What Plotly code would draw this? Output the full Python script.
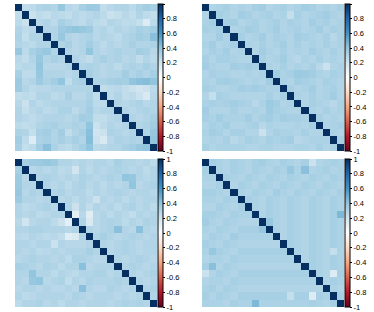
import plotly.graph_objects as go

N = 20
var_names = [f"V{i+1}" for i in range(N)]

# Upper triangles (row i holds correlations with columns i+1..19)
corr_a_upper = [
    [0.25,0.27,0.30,0.32,0.30,0.38,0.28,0.27,0.33,0.37,0.36,0.25,0.28,0.30,0.30,0.27,0.32,0.35,0.33],
    [0.22,0.26,0.24,0.28,0.27,0.25,0.29,0.26,0.28,0.30,0.27,0.22,0.24,0.28,0.25,0.30,0.26,0.24],
    [0.28,0.30,0.27,0.33,0.30,0.28,0.26,0.30,0.27,0.25,0.30,0.28,0.26,0.27,0.24,0.15,0.27],
    [0.30,0.30,0.36,0.38,0.40,0.38,0.36,0.28,0.30,0.27,0.30,0.28,0.30,0.33,0.32,0.35],
    [0.30,0.38,0.30,0.28,0.30,0.32,0.28,0.30,0.29,0.27,0.30,0.32,0.35,0.33,0.42],
    [0.30,0.33,0.28,0.30,0.35,0.30,0.27,0.30,0.28,0.30,0.33,0.30,0.30,0.32],
    [0.30,0.28,0.30,0.40,0.30,0.28,0.30,0.32,0.30,0.30,0.35,0.33,0.28],
    [0.30,0.28,0.25,0.30,0.33,0.30,0.32,0.28,0.30,0.25,0.30,0.27],
    [0.30,0.32,0.30,0.28,0.30,0.27,0.30,0.32,0.30,0.33,0.30],
    [0.33,0.30,0.28,0.30,0.30,0.35,0.30,0.33,0.30,0.34],
    [0.30,0.32,0.33,0.35,0.34,0.40,0.42,0.43,0.40],
    [0.25,0.27,0.28,0.25,0.22,0.20,0.22,0.27],
    [0.27,0.30,0.25,0.27,0.22,0.17,0.28],
    [0.30,0.28,0.30,0.32,0.28,0.30],
    [0.30,0.28,0.30,0.32,0.30],
    [0.30,0.28,0.30,0.33],
    [0.30,0.32,0.35],
    [0.30,0.38],
    [0.40],
]

corr_b_upper = [
    [0.30,0.32,0.33,0.30,0.32,0.30,0.33,0.35,0.30,0.32,0.33,0.30,0.32,0.35,0.33,0.30,0.32,0.30,0.33],
    [0.34,0.32,0.30,0.35,0.33,0.30,0.32,0.33,0.30,0.32,0.24,0.33,0.30,0.32,0.33,0.35,0.32,0.30],
    [0.33,0.35,0.30,0.32,0.33,0.30,0.32,0.34,0.30,0.33,0.32,0.30,0.35,0.32,0.33,0.30,0.32],
    [0.30,0.32,0.35,0.33,0.30,0.32,0.35,0.30,0.32,0.33,0.30,0.32,0.35,0.30,0.33,0.32],
    [0.33,0.30,0.32,0.35,0.30,0.33,0.32,0.30,0.35,0.33,0.32,0.30,0.33,0.28,0.32],
    [0.32,0.30,0.33,0.30,0.32,0.35,0.30,0.33,0.30,0.32,0.30,0.33,0.30,0.32],
    [0.30,0.35,0.32,0.30,0.33,0.30,0.32,0.30,0.35,0.32,0.30,0.33,0.30],
    [0.33,0.30,0.32,0.35,0.30,0.28,0.32,0.30,0.33,0.30,0.32,0.30],
    [0.32,0.30,0.33,0.30,0.32,0.30,0.33,0.28,0.22,0.30,0.32],
    [0.35,0.32,0.33,0.37,0.36,0.35,0.32,0.30,0.33,0.32],
    [0.32,0.30,0.35,0.33,0.32,0.30,0.33,0.32,0.30],
    [0.33,0.30,0.32,0.35,0.30,0.32,0.33,0.30],
    [0.32,0.30,0.33,0.30,0.32,0.35,0.30],
    [0.30,0.33,0.32,0.30,0.28,0.32],
    [0.32,0.30,0.33,0.30,0.32],
    [0.33,0.30,0.32,0.30],
    [0.30,0.32,0.33],
    [0.32,0.30],
    [0.33],
]

corr_c_upper = [
    [0.33,0.36,0.37,0.38,0.36,0.30,0.30,0.28,0.30,0.28,0.30,0.30,0.28,0.33,0.30,0.30,0.28,0.30,0.27],
    [0.28,0.30,0.28,0.30,0.27,0.28,0.20,0.30,0.27,0.30,0.28,0.30,0.32,0.30,0.28,0.30,0.27,0.30],
    [0.30,0.32,0.30,0.28,0.30,0.28,0.32,0.30,0.28,0.30,0.32,0.30,0.40,0.38,0.30,0.28,0.30],
    [0.30,0.28,0.30,0.27,0.30,0.32,0.28,0.30,0.27,0.30,0.28,0.30,0.40,0.28,0.30,0.32],
    [0.30,0.32,0.28,0.30,0.30,0.27,0.30,0.28,0.30,0.32,0.30,0.28,0.30,0.30,0.28],
    [0.28,0.30,0.27,0.30,0.28,0.22,0.30,0.28,0.30,0.27,0.30,0.28,0.30,0.30],
    [0.30,0.22,0.30,0.25,0.30,0.28,0.30,0.27,0.30,0.32,0.28,0.30,0.27],
    [0.12,0.28,0.14,0.28,0.30,0.27,0.30,0.28,0.25,0.30,0.28,0.30],
    [0.30,0.17,0.28,0.30,0.32,0.30,0.27,0.30,0.28,0.32,0.30],
    [0.30,0.28,0.30,0.32,0.42,0.30,0.28,0.42,0.30,0.28],
    [0.30,0.33,0.30,0.28,0.30,0.32,0.30,0.28,0.30],
    [0.30,0.28,0.30,0.32,0.30,0.28,0.30,0.30],
    [0.28,0.30,0.32,0.30,0.28,0.30,0.30],
    [0.30,0.28,0.30,0.32,0.30,0.28],
    [0.30,0.32,0.30,0.28,0.30],
    [0.30,0.28,0.30,0.32],
    [0.30,0.28,0.30],
    [0.30,0.32],
    [0.30],
]

corr_d_upper = [
    [0.33,0.32,0.30,0.33,0.32,0.30,0.33,0.35,0.32,0.30,0.33,0.32,0.30,0.33,0.22,0.30,0.32,0.33,0.32],
    [0.32,0.30,0.33,0.32,0.30,0.33,0.32,0.30,0.33,0.32,0.38,0.32,0.42,0.30,0.32,0.33,0.30,0.32],
    [0.33,0.32,0.30,0.33,0.32,0.30,0.33,0.32,0.30,0.33,0.32,0.30,0.33,0.32,0.30,0.33,0.32],
    [0.30,0.33,0.32,0.30,0.33,0.32,0.30,0.33,0.32,0.30,0.33,0.32,0.30,0.33,0.32,0.30],
    [0.32,0.30,0.33,0.32,0.30,0.35,0.32,0.30,0.33,0.32,0.30,0.33,0.32,0.30,0.33],
    [0.33,0.32,0.30,0.33,0.32,0.30,0.33,0.32,0.30,0.33,0.32,0.30,0.33,0.32],
    [0.32,0.30,0.33,0.32,0.30,0.33,0.32,0.30,0.33,0.32,0.30,0.33,0.32],
    [0.30,0.33,0.32,0.30,0.33,0.32,0.30,0.33,0.32,0.30,0.33,0.45],
    [0.38,0.32,0.30,0.33,0.32,0.30,0.33,0.32,0.30,0.33,0.32],
    [0.32,0.30,0.33,0.32,0.30,0.33,0.32,0.30,0.33,0.32],
    [0.30,0.33,0.32,0.30,0.33,0.32,0.30,0.33,0.32],
    [0.33,0.32,0.30,0.33,0.32,0.30,0.33,0.32],
    [0.32,0.30,0.33,0.32,0.30,0.24,0.32],
    [0.30,0.33,0.32,0.30,0.33,0.32],
    [0.33,0.32,0.30,0.33,0.32],
    [0.32,0.30,0.15,0.33],
    [0.30,0.33,0.32],
    [0.32,0.30],
    [0.33],
]

tick_vals = [-1, -0.8, -0.6, -0.4, -0.2, 0, 0.2, 0.4, 0.6, 0.8, 1]
tick_text = ["-1", "-0.8", "-0.6", "-0.4", "-0.2", "0", "0.2", "0.4", "0.6", "0.8", "1"]

rdbu_colors = ["#67001F", "#B2182B", "#D6604D", "#F4A582", "#FDDBC7", "#FFFFFF",
               "#D1E5F0", "#92C5DE", "#4393C3", "#2166AC", "#053061"]
colorscale = [[i / 10, c] for i, c in enumerate(rdbu_colors)]


def full_matrix(upper):
    m = [[1.0] * N for _ in range(N)]
    for i, row in enumerate(upper):
        for k, v in enumerate(row):
            j = i + 1 + k
            m[i][j] = v
            m[j][i] = v
    return m


W, H = 374, 312
# panel pixel boxes: (x0, x1, y0, y1) with y measured from top
panels = [
    (corr_a_upper, (15, 157, 4, 151), 158),
    (corr_b_upper, (202, 344, 4, 151), 345),
    (corr_c_upper, (15, 157, 159, 307), 158),
    (corr_d_upper, (202, 344, 159, 307), 345),
]

fig = go.Figure()
layout = dict(width=W, height=H,
              margin=dict(l=0, r=0, t=0, b=0, pad=0, autoexpand=False),
              paper_bgcolor="white", plot_bgcolor="white", showlegend=False)

for idx, (upper, (x0, x1, y0, y1), cbx) in enumerate(panels):
    n = idx + 1
    xa = "x" if n == 1 else f"x{n}"
    ya = "y" if n == 1 else f"y{n}"
    z = full_matrix(upper)
    fig.add_trace(go.Heatmap(
        z=z, x=var_names, y=var_names, xaxis=xa, yaxis=ya,
        zmin=-1, zmax=1, colorscale=colorscale,
        colorbar=dict(
            x=cbx / W, xanchor="left", xpad=0,
            y=1 - y0 / H, yanchor="top", ypad=0,
            lenmode="pixels", len=(y1 - y0),
            thicknessmode="pixels", thickness=5,
            outlinewidth=1, outlinecolor="black",
            tickmode="array", tickvals=tick_vals, ticktext=tick_text,
            ticks="outside", ticklen=2, tickwidth=1, tickcolor="black",
            tickfont=dict(family="Liberation Sans, Arial", size=7.5, color="black"),
        ),
    ))
    xkey = "xaxis" if n == 1 else f"xaxis{n}"
    ykey = "yaxis" if n == 1 else f"yaxis{n}"
    layout[xkey] = dict(domain=[x0 / W, x1 / W], anchor=ya, showgrid=False, zeroline=False,
                        showticklabels=False, ticks="", showline=False)
    layout[ykey] = dict(domain=[1 - y1 / H, 1 - y0 / H], anchor=xa, showgrid=False, zeroline=False,
                        showticklabels=False, ticks="", showline=False, autorange="reversed")

fig.update_layout(**layout)
fig.write_html("out.html", config={"displayModeBar": False},
               post_script="document.body.style.margin='0';document.body.style.padding='0';")
